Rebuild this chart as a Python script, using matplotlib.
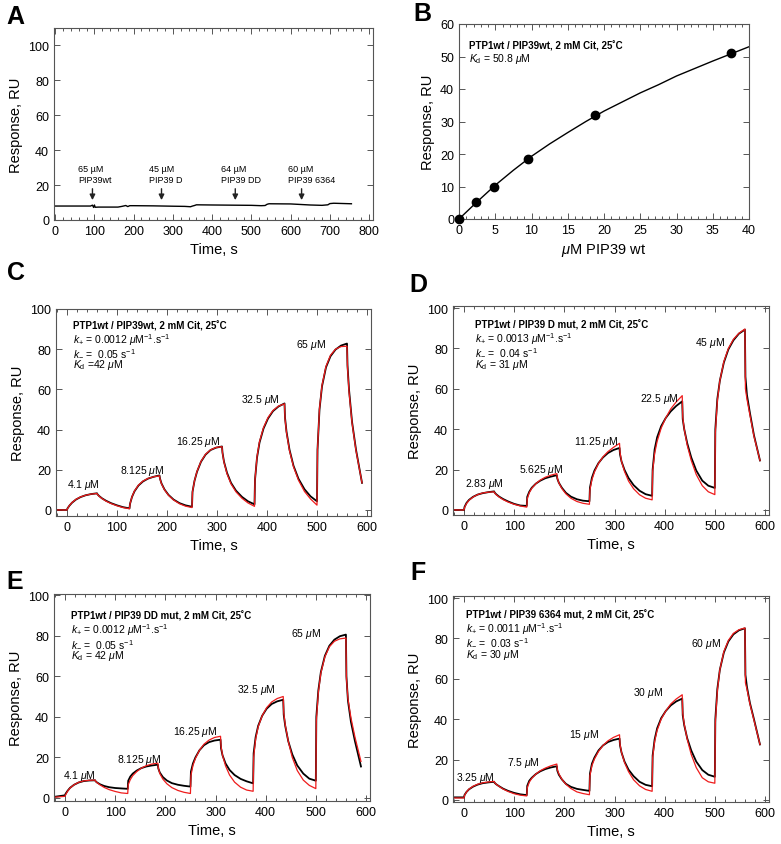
import matplotlib
matplotlib.use('Agg')
import matplotlib.pyplot as plt
import numpy as np
from matplotlib.ticker import MultipleLocator

plt.rcParams['font.family'] = ['Liberation Sans', 'DejaVu Sans']
plt.rcParams['mathtext.fontset'] = 'custom'
plt.rcParams['mathtext.rm'] = 'Liberation Sans'
plt.rcParams['mathtext.it'] = 'Liberation Sans:italic'
plt.rcParams['mathtext.bf'] = 'Liberation Sans:bold'

# ---- panel A : control injections, flat response
A_time = [0, 60, 90, 95, 98, 100, 102, 110, 160, 170, 180, 185, 190, 200, 250, 300, 330, 345,
          350, 355, 360, 400, 450, 500, 525, 535, 540, 545, 600, 650, 680, 695, 700, 710, 755]
A_resp = [8.0, 8.0, 8.0, 8.5, 7.2, 8.6, 7.3, 7.4, 7.4, 7.8, 8.3, 7.7, 8.2, 8.2, 8.1, 7.9, 7.8, 7.6,
          8.0, 8.3, 8.7, 8.6, 8.5, 8.4, 8.2, 8.3, 9.0, 9.3, 9.2, 8.6, 8.4, 8.7, 9.4, 9.6, 9.3]
A_inject_t = [95, 271, 459, 628]
A_inject_lbl = ['65 µM\nPIP39wt', '45 µM\nPIP39 D', '64 µM\nPIP39 DD', '60 µM\nPIP39 6364']

# ---- panel B : steady-state binding
B_conc = [0, 2.4, 4.8, 9.5, 18.8, 37.5]
B_resp = [0, 5.2, 9.9, 18.5, 31.9, 51.0]
B_fit_x = [0, 2.5, 5, 7.5, 10, 12.5, 15, 17.5, 20, 22.5, 25, 27.5, 30, 32.5, 35, 37.5, 40]
B_fit_y = [0, 5.3, 10.4, 15, 19.3, 23.1, 26.6, 30, 33.2, 36, 38.8, 41.3, 44, 46.3, 48.6, 50.8, 53]

# ---- panels C-F : sensorgrams (black = data, red = fit)
SG_TIME = [-20,
           0, 1, 5, 10, 18, 27, 37, 48, 60, 61, 64, 70, 78, 88, 100, 112,
           125, 126, 130, 135, 143, 152, 162, 173, 185, 186, 189, 195, 203, 213, 225, 237,
           250, 251, 255, 260, 268, 277, 287, 298, 310, 311, 314, 320, 328, 338, 350, 362,
           375, 376, 380, 385, 393, 402, 412, 423, 435, 436, 439, 445, 453, 463, 475, 487,
           500, 501, 505, 510, 518, 527, 537, 548, 560, 561, 564, 570, 578, 590]

C_black = [0,
           0, 0.8, 2.2, 3.6, 5.2, 6.4, 7.3, 7.9, 8.3, 7.8, 7.0, 5.8, 4.6, 3.4, 2.3, 1.4,
           0.8, 3.0, 6.5, 9.3, 12.2, 14.2, 15.6, 16.5, 17.2, 15.6, 13.2, 10.2, 7.5, 5.2, 3.4, 2.3,
           1.6, 9.0, 14.5, 19.0, 24.0, 27.5, 29.8, 31.0, 31.6, 28.5, 24.0, 18.5, 13.5, 9.6, 6.5, 4.3,
           2.8, 15.0, 26.0, 33.5, 40.5, 45.5, 49.2, 51.5, 53.0, 46.0, 39.0, 30.0, 22.0, 15.5, 10.3, 6.8,
           4.3, 30.0, 50.0, 61.5, 71.0, 76.5, 79.8, 81.8, 82.8, 72.0, 60.0, 44.0, 30.0, 13.5]
C_red = [0,
         0, 0.7, 2.3, 3.7, 5.3, 6.5, 7.3, 7.9, 8.2, 7.7, 6.9, 5.7, 4.4, 3.2, 2.1, 1.2,
         0.6, 3.0, 6.6, 9.5, 12.4, 14.4, 15.7, 16.5, 17.0, 15.4, 13.0, 10.0, 7.3, 5.0, 3.1, 1.9,
         1.2, 9.0, 14.5, 19.2, 24.2, 27.7, 29.9, 31.1, 31.5, 28.3, 23.7, 18.0, 13.0, 9.0, 5.8, 3.5,
         1.8, 15.0, 26.5, 34.0, 41.0, 46.0, 49.5, 51.7, 52.8, 45.5, 38.5, 29.5, 21.5, 14.8, 9.2, 5.5,
         2.4, 30.0, 50.5, 62.0, 71.5, 77.0, 80.0, 81.3, 81.5, 71.0, 59.0, 43.5, 29.5, 13.5]

D_black = [0,
           0, 1.5, 3.5, 5.0, 6.5, 7.6, 8.3, 8.8, 9.2, 8.6, 7.8, 6.6, 5.4, 4.2, 3.0, 2.2,
           2.0, 6.5, 9.0, 11.0, 13.0, 14.5, 15.7, 16.5, 17.2, 15.5, 13.5, 11.0, 8.5, 6.6, 5.3, 4.6,
           4.3, 11.0, 16.0, 19.5, 23.2, 26.0, 28.2, 29.7, 30.7, 27.5, 24.0, 19.8, 15.8, 12.3, 9.5, 7.8,
           7.0, 20.0, 30.0, 36.0, 41.5, 45.5, 48.8, 51.5, 53.8, 45.0, 40.0, 33.0, 26.0, 19.5, 14.5, 12.0,
           10.9, 40.0, 55.0, 64.0, 73.0, 79.5, 84.0, 87.3, 89.3, 66.0, 57.0, 48.0, 37.0, 24.5]
D_red = [0,
         0, 1.2, 3.2, 4.8, 6.4, 7.6, 8.4, 8.8, 9.0, 8.4, 7.6, 6.4, 5.1, 3.9, 2.8, 2.0,
         1.4, 5.5, 8.5, 10.7, 13.0, 14.8, 16.2, 17.2, 18.0, 15.8, 13.4, 10.6, 8.0, 5.8, 4.2, 3.3,
         2.8, 10.0, 15.0, 18.8, 23.0, 26.3, 28.9, 31.0, 33.0, 28.5, 24.0, 19.0, 14.3, 10.5, 7.5, 5.8,
         5.0, 19.0, 28.0, 34.0, 40.5, 45.5, 50.0, 53.5, 56.6, 46.0, 40.0, 32.0, 24.5, 17.5, 12.0, 9.0,
         7.6, 38.0, 54.0, 64.0, 73.5, 80.0, 84.5, 87.5, 89.6, 60.0, 55.0, 47.0, 36.5, 24.5]

E_black = [0.6,
           1.3, 2.0, 3.5, 5.0, 6.5, 7.6, 8.3, 8.6, 8.7, 8.2, 7.6, 6.7, 5.9, 5.3, 4.9, 4.7,
           4.5, 8.5, 10.5, 12.0, 13.5, 14.7, 15.5, 16.0, 16.4, 14.5, 12.5, 10.3, 8.6, 7.3, 6.5, 6.0,
           5.6, 13.0, 17.0, 20.0, 23.5, 26.0, 27.5, 28.3, 28.7, 24.5, 21.0, 17.0, 13.8, 11.3, 9.4, 8.2,
           7.2, 22.0, 30.0, 35.5, 40.5, 44.0, 46.3, 47.6, 48.4, 41.0, 35.5, 28.0, 21.5, 16.0, 12.0, 9.5,
           8.5, 40.0, 53.0, 62.0, 70.0, 75.0, 78.0, 79.7, 80.5, 60.0, 48.0, 37.5, 28.0, 15.5]
E_red = [0.4,
         0.8, 1.5, 3.3, 4.9, 6.5, 7.7, 8.4, 8.7, 8.8, 8.2, 7.5, 6.4, 5.2, 4.1, 3.2, 2.5,
         2.2, 6.5, 9.0, 11.0, 13.0, 14.7, 15.9, 16.7, 17.2, 14.8, 12.0, 9.3, 7.0, 5.1, 3.7, 2.8,
         2.2, 11.0, 16.0, 19.5, 23.5, 26.5, 28.5, 29.8, 30.4, 25.5, 21.0, 15.8, 11.3, 7.8, 5.3, 3.9,
         3.3, 20.0, 29.0, 35.0, 40.5, 44.5, 47.3, 49.0, 50.0, 42.0, 36.0, 28.0, 20.0, 13.5, 8.8, 6.2,
         4.6, 38.0, 52.0, 61.5, 69.5, 74.5, 77.2, 78.4, 78.8, 59.0, 49.0, 39.5, 30.0, 18.0]

F_black = [1.3,
           1.3, 2.5, 4.0, 5.3, 6.6, 7.6, 8.3, 8.7, 9.0, 8.5, 7.8, 6.8, 5.6, 4.5, 3.5, 2.8,
           2.4, 7.0, 9.5, 11.0, 12.8, 14.2, 15.3, 16.1, 16.7, 14.5, 12.5, 10.2, 8.0, 6.5, 5.5, 5.0,
           4.5, 13.0, 18.0, 21.0, 24.5, 27.0, 28.7, 29.7, 30.4, 27.0, 23.5, 19.0, 15.0, 11.8, 9.0, 7.5,
           6.8, 22.0, 30.0, 35.5, 40.5, 44.0, 46.8, 48.8, 50.2, 42.0, 37.0, 30.5, 24.5, 19.0, 14.8, 12.5,
           11.5, 40.0, 55.0, 64.5, 73.0, 78.5, 82.0, 84.0, 85.0, 62.0, 56.0, 48.0, 40.0, 27.5]
F_red = [1.0,
         1.0, 2.3, 4.0, 5.4, 6.8, 7.8, 8.5, 8.9, 9.2, 8.6, 7.8, 6.7, 5.4, 4.2, 3.1, 2.4,
         2.0, 6.0, 8.8, 10.7, 12.8, 14.5, 15.8, 16.9, 17.8, 15.0, 13.0, 10.3, 7.8, 5.7, 4.0, 3.2,
         2.6, 12.0, 17.0, 20.3, 24.0, 27.0, 29.3, 31.0, 32.3, 27.5, 23.5, 18.5, 14.0, 10.0, 7.0, 5.2,
         4.3, 21.0, 29.0, 34.5, 40.0, 44.0, 47.5, 50.0, 52.1, 43.0, 37.5, 30.0, 22.5, 16.0, 11.0, 9.0,
         8.3, 38.0, 54.0, 64.5, 73.5, 79.0, 82.5, 84.3, 85.2, 58.0, 55.0, 47.5, 39.5, 27.5]

C_conc = ['4.1', '8.125', '16.25', '32.5', '65']
D_conc = ['2.83', '5.625', '11.25', '22.5', '45']
E_conc = ['4.1', '8.125', '16.25', '32.5', '65']
F_conc = ['3.25', '7.5', '15', '30', '60']

C_head = 'PTP1wt / PIP39wt, 2 mM Cit, 25˚C'
D_head = 'PTP1wt / PIP39 D mut, 2 mM Cit, 25˚C'
E_head = 'PTP1wt / PIP39 DD mut, 2 mM Cit, 25˚C'
F_head = 'PTP1wt / PIP39 6364 mut, 2 mM Cit, 25˚C'
C_kon, D_kon, E_kon, F_kon = '0.0012', '0.0013', '0.0012', '0.0011'
C_koff, D_koff, E_koff, F_koff = '0.05', '0.04', '0.05', '0.03'
C_kd, D_kd, E_kd, F_kd = '=42', '= 31', '= 42', '= 30'

FS_TICK = 9
FS_LAB = 10.5
FS_NOTE = 7
SPINE = '#555555'

fig = plt.figure(figsize=(7.81, 8.45), dpi=100)
W, H = 781.0, 845.0


def add_ax(l, t, r, b):
    return fig.add_axes([l / W, 1 - b / H, (r - l) / W, (b - t) / H])


def style(ax):
    for s in ax.spines.values():
        s.set_color(SPINE)
        s.set_linewidth(0.8)
    ax.tick_params(which='both', direction='in', top=True, right=True,
                   color=SPINE, labelsize=FS_TICK, width=0.7)
    ax.tick_params(which='major', length=4)
    ax.tick_params(which='minor', length=2.5)


# panel A
axA = add_ax(54, 29, 373, 221)
axA.plot(A_time, A_resp, color='k', lw=1.0)
axA.set_xlim(-3, 810)
axA.set_ylim(0, 110)
axA.set_yticks([0, 20, 40, 60, 80, 100])
axA.xaxis.set_major_locator(MultipleLocator(100))
axA.xaxis.set_minor_locator(MultipleLocator(20))
style(axA)
axA.set_xlabel('Time, s', fontsize=FS_LAB)
axA.set_ylabel('Response, RU', fontsize=FS_LAB)
A_txt_x = [58, 240, 423, 594]
for tx, ti, lbl in zip(A_txt_x, A_inject_t, A_inject_lbl):
    axA.text(tx, 20.5, lbl, fontsize=6.5, ha='left', va='bottom', linespacing=1.25)
    axA.annotate('', xy=(ti, 9.8), xytext=(ti, 19.5),
                 arrowprops=dict(arrowstyle='-|>', color='#222222', lw=1.0, mutation_scale=8))

# panel B
axB = add_ax(459, 25, 749, 220)
axB.plot(B_fit_x, B_fit_y, color='k', lw=1.0)
axB.plot(B_conc, B_resp, 'o', color='k', ms=6, clip_on=False, zorder=5)
axB.set_xlim(0, 40)
axB.set_ylim(0, 60)
axB.xaxis.set_major_locator(MultipleLocator(5))
axB.xaxis.set_minor_locator(MultipleLocator(1))
axB.yaxis.set_major_locator(MultipleLocator(10))
style(axB)
axB.set_xlabel(r'$\mu$M PIP39 wt', fontsize=FS_LAB)
axB.set_ylabel('Response, RU', fontsize=FS_LAB)
axB.text(1.4, 53.6, 'PTP1wt / PIP39wt, 2 mM Cit, 25˚C', fontsize=FS_NOTE, fontweight='bold', va='center')
axB.text(1.4, 49.4, r'$K_{\mathrm{d}}$ = 50.8 $\mu$M', fontsize=FS_NOTE + 0.5, va='center')

# panels C-F
panels = [
    ((56, 310, 371, 517), (-3, 100), C_black, C_red, C_conc, C_head, C_kon, C_koff, C_kd,
     12.5, 92.0,
     [(33, 12.9), (151, 20), (262, 34.3), (387, 55.4), (487, 82.5)]),
    ((453, 307, 769, 516), (-2.5, 101), D_black, D_red, D_conc, D_head, D_kon, D_koff, D_kd,
     21, 92.0,
     [(40, 13.2), (154, 20.3), (264, 34.3), (390, 55.3), (490, 83)]),
    ((54, 595, 370, 802), (-1.5, 100.5), E_black, E_red, E_conc, E_head, E_kon, E_koff, E_kd,
     11, 90.0,
     [(28, 11.5), (148, 19.2), (259, 33.2), (381, 53.9), (480, 81.3)]),
    ((453, 597, 769, 803), (-1, 101), F_black, F_red, F_conc, F_head, F_kon, F_koff, F_kd,
     3.3, 92.0,
     [(22, 11.4), (118, 18.8), (239, 32.8), (366, 53.3), (482, 77.7)]),
]

for box, ylim, blk, red, conc, head, kon, koff, kd, hx, hy, cpos in panels:
    ax = add_ax(*box)
    ax.plot(SG_TIME, blk, color='k', lw=1.3)
    ax.plot(SG_TIME, red, color='#ee1c1c', lw=0.9)
    ax.set_xlim(-22, 608)
    ax.set_ylim(*ylim)
    ax.set_yticks([0, 20, 40, 60, 80, 100])
    ax.xaxis.set_major_locator(MultipleLocator(100))
    ax.xaxis.set_minor_locator(MultipleLocator(20))
    style(ax)
    ax.set_xlabel('Time, s', fontsize=FS_LAB)
    ax.set_ylabel('Response, RU', fontsize=FS_LAB)
    ax.text(hx, hy, head, fontsize=FS_NOTE, fontweight='bold', va='center')
    ax.text(hx, hy - 7.0, r'$k_{+}$ = ' + kon + r' $\mu$M$^{-1}$.s$^{-1}$', fontsize=FS_NOTE + 0.5, va='center')
    ax.text(hx, hy - 13.5, r'$k_{-}$ =  ' + koff + r' s$^{-1}$', fontsize=FS_NOTE + 0.5, va='center')
    ax.text(hx, hy - 19.5, r'$K_{\mathrm{d}}$ ' + kd + r' $\mu$M', fontsize=FS_NOTE + 0.5, va='center')
    for c, (px, py) in zip(conc, cpos):
        ax.text(px, py, c + r' $\mu$M', fontsize=FS_NOTE + 0.5, ha='center', va='center')

# panel letters
for lbl, x, y in [('A', 15, 17), ('B', 422, 14), ('C', 16, 273),
                  ('D', 418, 285), ('E', 15, 582), ('F', 418, 573)]:
    fig.text(x / W, 1 - y / H, lbl, fontsize=18, fontweight='bold', ha='center', va='center')

fig.savefig('out.png', dpi=100)
